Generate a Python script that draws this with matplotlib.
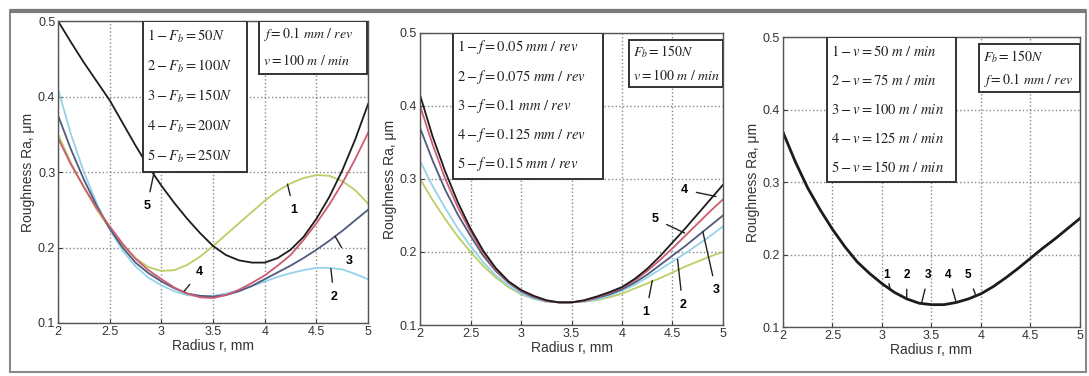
import matplotlib
matplotlib.use("Agg")
import matplotlib.pyplot as plt
from matplotlib.patches import Rectangle

plt.rcParams['font.family'] = ['Liberation Sans', 'DejaVu Sans']
plt.rcParams['mathtext.fontset'] = 'stix'

# radius values, mm
radius = [2.0, 2.125, 2.25, 2.375, 2.5, 2.625, 2.75, 2.875, 3.0, 3.125, 3.25, 3.375, 3.5,
          3.625, 3.75, 3.875, 4.0, 4.125, 4.25, 4.375, 4.5, 4.625, 4.75, 4.875, 5.0]

# panel 1: effect of burnishing force
ra_force_1 = [0.350, 0.312, 0.280, 0.250, 0.225, 0.203, 0.186, 0.174, 0.169, 0.170, 0.177, 0.188, 0.202,
              0.217, 0.232, 0.247, 0.262, 0.275, 0.285, 0.292, 0.296, 0.295, 0.288, 0.276, 0.258]
ra_force_2 = [0.410, 0.350, 0.300, 0.258, 0.224, 0.196, 0.175, 0.160, 0.150, 0.142, 0.137, 0.135, 0.136,
              0.139, 0.143, 0.149, 0.155, 0.161, 0.166, 0.170, 0.173, 0.173, 0.171, 0.165, 0.158]
ra_force_3 = [0.375, 0.330, 0.290, 0.255, 0.225, 0.200, 0.180, 0.166, 0.155, 0.146, 0.139, 0.136, 0.135,
              0.137, 0.142, 0.149, 0.158, 0.167, 0.176, 0.186, 0.197, 0.209, 0.222, 0.236, 0.250]
ra_force_4 = [0.345, 0.310, 0.280, 0.252, 0.228, 0.205, 0.185, 0.170, 0.158, 0.147, 0.139, 0.134, 0.133,
              0.137, 0.144, 0.153, 0.163, 0.176, 0.190, 0.210, 0.232, 0.257, 0.285, 0.317, 0.352]
ra_force_5 = [0.500, 0.472, 0.445, 0.420, 0.395, 0.365, 0.335, 0.307, 0.282, 0.259, 0.238, 0.219, 0.202,
              0.190, 0.183, 0.180, 0.180, 0.186, 0.197, 0.214, 0.238, 0.267, 0.302, 0.343, 0.390]

# panel 2: effect of feed
ra_feed_1 = [0.300, 0.271, 0.245, 0.221, 0.200, 0.181, 0.165, 0.152, 0.142, 0.136, 0.132, 0.131, 0.131,
             0.132, 0.134, 0.138, 0.143, 0.150, 0.157, 0.164, 0.172, 0.180, 0.187, 0.194, 0.200]
ra_feed_2 = [0.325, 0.290, 0.260, 0.232, 0.208, 0.186, 0.168, 0.154, 0.143, 0.136, 0.132, 0.131, 0.131,
             0.132, 0.135, 0.140, 0.147, 0.155, 0.165, 0.176, 0.187, 0.198, 0.210, 0.222, 0.235]
ra_feed_3 = [0.370, 0.325, 0.285, 0.251, 0.222, 0.195, 0.174, 0.158, 0.146, 0.138, 0.133, 0.131, 0.131,
             0.133, 0.137, 0.142, 0.149, 0.158, 0.169, 0.182, 0.195, 0.208, 0.222, 0.236, 0.250]
ra_feed_4 = [0.415, 0.358, 0.310, 0.268, 0.232, 0.202, 0.178, 0.160, 0.148, 0.140, 0.134, 0.131, 0.131,
             0.134, 0.139, 0.145, 0.152, 0.163, 0.177, 0.194, 0.213, 0.232, 0.252, 0.272, 0.292]
ra_feed_5 = [0.400, 0.347, 0.300, 0.261, 0.228, 0.199, 0.176, 0.159, 0.147, 0.139, 0.133, 0.131, 0.131,
             0.133, 0.138, 0.144, 0.151, 0.161, 0.174, 0.189, 0.205, 0.222, 0.239, 0.256, 0.272]

# panel 3: effect of speed (all curves coincide)
ra_speed = [0.369, 0.328, 0.292, 0.262, 0.235, 0.211, 0.190, 0.174, 0.160, 0.148, 0.139, 0.133, 0.131,
            0.131, 0.134, 0.139, 0.146, 0.156, 0.168, 0.181, 0.195, 0.209, 0.222, 0.236, 0.250]
speed_tag_labels = ['1', '2', '3', '4', '5']
speed_tag_r = [3.08, 3.25, 3.40, 3.75, 3.95]
speed_tag_ra = [0.154, 0.139, 0.133, 0.134, 0.143]

legend_force = ['$1 - F_b = 50N$', '$2 - F_b = 100N$', '$3 - F_b = 150N$',
                '$4 - F_b = 200N$', '$5 - F_b = 250N$']
legend_feed = ['$1 - f = 0.05\\ mm\\ /\\ rev$', '$2 - f = 0.075\\ mm\\ /\\ rev$', '$3 - f = 0.1\\ mm\\ /\\ rev$',
               '$4 - f = 0.125\\ mm\\ /\\ rev$', '$5 - f = 0.15\\ mm\\ /\\ rev$']
legend_speed = ['$1 - v = 50\\ m\\ /\\ min$', '$2 - v = 75\\ m\\ /\\ min$', '$3 - v = 100\\ m\\ /\\ min$',
                '$4 - v = 125\\ m\\ /\\ min$', '$5 - v = 150\\ m\\ /\\ min$']
cond_force = ['$f = 0.1\\ mm\\ /\\ rev$', '$v = 100\\ m\\ /\\ min$']
cond_feed = ['$F_b = 150N$', '$v = 100\\ m\\ /\\ min$']
cond_speed = ['$F_b = 150N$', '$f = 0.1\\ mm\\ /\\ rev$']

c_yel = '#b9cf66'
c_cyan = '#96d2ea'
c_slate = '#4f5b7c'
c_red = '#cf5b70'
c_blk = '#1c1c1c'

fig = plt.figure(figsize=(10.89, 3.76), dpi=100)
fig.patches.append(Rectangle((0.009, 0.011), 0.988, 0.962, transform=fig.transFigure,
                             fill=False, edgecolor='#8a8a8a', linewidth=1.5))
fig.patches.append(Rectangle((0.009, 0.970), 0.988, 0.0, transform=fig.transFigure,
                             fill=False, edgecolor='#7a7a7a', linewidth=3))

ax1 = fig.add_axes([0.0533, 0.141, 0.2847, 0.803])
ax2 = fig.add_axes([0.3857, 0.1356, 0.2782, 0.777])
ax3 = fig.add_axes([0.719, 0.130, 0.2727, 0.771])


def style_axes(ax):
    ax.set_xlim(2, 5)
    ax.set_ylim(0.1, 0.5)
    ax.set_xticks([2, 2.5, 3, 3.5, 4, 4.5, 5])
    ax.set_xticklabels(['2', '2.5', '3', '3.5', '4', '4.5', '5'])
    ax.set_yticks([0.1, 0.2, 0.3, 0.4, 0.5])
    ax.set_yticklabels(['0.1', '0.2', '0.3', '0.4', '0.5'])
    ax.tick_params(labelsize=9, length=3, direction='in', pad=2, colors='#333333')
    ax.grid(True, linestyle=':', color='#888888', linewidth=1.0)
    for s in ax.spines.values():
        s.set_color('#555555')
        s.set_linewidth(1.0)
    ax.set_xlabel('Radius r, mm', fontsize=10, labelpad=1, color='#333333')
    ax.set_ylabel('Roughness Ra, \u03bcm', fontsize=10, labelpad=2, color='#333333')


def text_box(ax, x0, x1, y0, y1, lines, size=10.5):
    ax.add_patch(Rectangle((x0, y0), x1 - x0, y1 - y0, facecolor='white',
                           edgecolor='#333333', linewidth=1.4, zorder=4))
    n = len(lines)
    step = (y1 - y0) / n
    for i, t in enumerate(lines):
        ax.text(x0 + 0.04, y1 - step * (i + 0.5), t, fontsize=size, va='center',
                ha='left', zorder=5, color='#222222')


def tag(ax, label, xy, xytext, size=9):
    ax.annotate(label, xy=xy, xytext=xytext, fontsize=size, fontweight='bold',
                ha='center', va='center', zorder=6,
                arrowprops=dict(arrowstyle='-', color='#222222', lw=1.0,
                                shrinkA=4, shrinkB=0))


# panel 1
for y, c in [(ra_force_1, c_yel), (ra_force_2, c_cyan), (ra_force_3, c_slate),
             (ra_force_4, c_red), (ra_force_5, c_blk)]:
    ax1.plot(radius, y, color=c, linewidth=1.3)
style_axes(ax1)
text_box(ax1, 2.82, 3.83, 0.3, 0.5, legend_force)
text_box(ax1, 3.94, 4.99, 0.43, 0.5, cond_force, size=10)
tag(ax1, '5', (2.93, 0.300), (2.86, 0.255))
tag(ax1, '1', (4.22, 0.284), (4.28, 0.250))
tag(ax1, '3', (4.68, 0.215), (4.82, 0.182))
tag(ax1, '2', (4.64, 0.172), (4.67, 0.135))
tag(ax1, '4', (3.22, 0.142), (3.37, 0.167))

# panel 2
for y, c in [(ra_feed_1, c_yel), (ra_feed_2, c_cyan), (ra_feed_3, c_slate),
             (ra_feed_5, c_red), (ra_feed_4, c_blk)]:
    ax2.plot(radius, y, color=c, linewidth=1.3)
style_axes(ax2)
text_box(ax2, 2.33, 3.81, 0.3, 0.5, legend_feed)
text_box(ax2, 4.07, 5.0, 0.426, 0.49, cond_feed, size=10)
tag(ax2, '4', (4.93, 0.276), (4.62, 0.285))
tag(ax2, '5', (4.62, 0.226), (4.33, 0.245))
tag(ax2, '3', (4.80, 0.228), (4.93, 0.148))
tag(ax2, '2', (4.55, 0.190), (4.60, 0.128))
tag(ax2, '1', (4.30, 0.161), (4.24, 0.118))

# panel 3
ax3.plot(radius, ra_speed, color=c_blk, linewidth=2.0)
style_axes(ax3)
text_box(ax3, 2.44, 3.75, 0.3, 0.5, legend_speed)
text_box(ax3, 3.98, 5.0, 0.425, 0.49, cond_speed, size=10)
for lab, px, py, tx in zip(speed_tag_labels, speed_tag_r, speed_tag_ra,
                           [3.05, 3.25, 3.47, 3.67, 3.87]):
    tag(ax3, lab, (px, py), (tx, 0.172), size=8.5)

fig.savefig('out.png', dpi=100)
